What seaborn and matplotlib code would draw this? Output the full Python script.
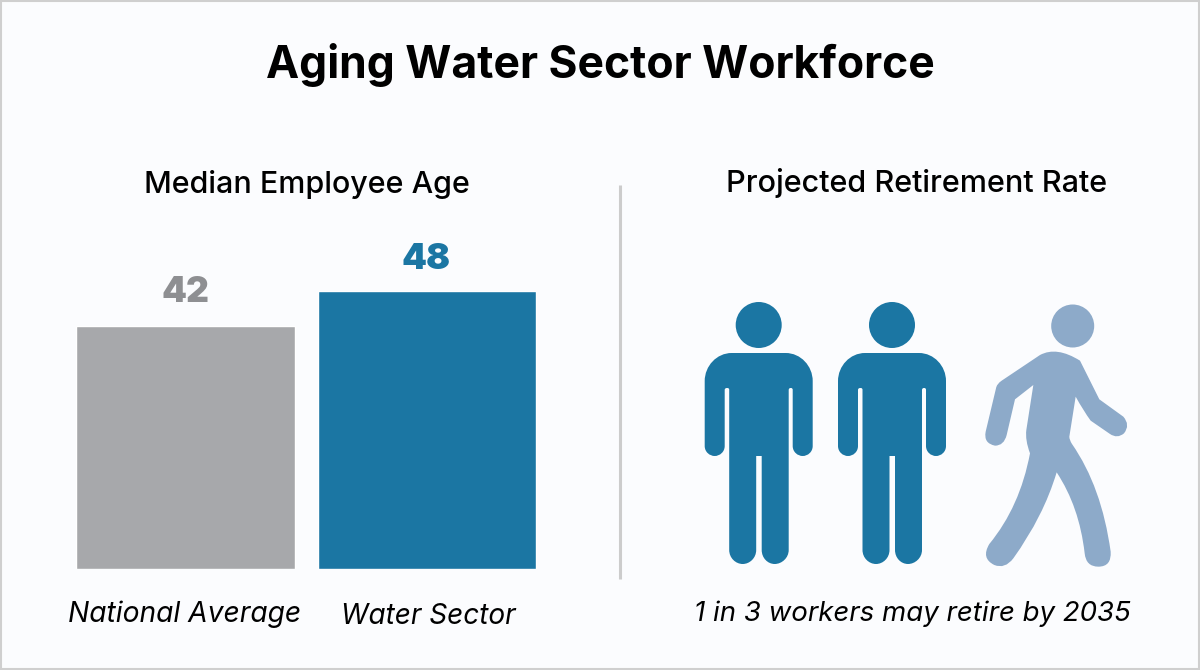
import matplotlib
matplotlib.use("Agg")
import matplotlib.pyplot as plt
import seaborn as sns
from matplotlib.patches import Circle, PathPatch, Rectangle
from matplotlib.path import Path

# the data
categories = ["National Average", "Water Sector"]
median_age = [42, 48]
workers_staying = 2
workers_retiring = 1

title = "Aging Water Sector Workforce"
left_title = "Median Employee Age"
right_title = "Projected Retirement Rate"
right_note = "1 in 3 workers may retire by 2035"

BG = "#FBFCFE"
BLUE = "#1B76A3"
GRAY = "#A7A8AB"
GRAY_TEXT = "#8E8F92"
LIGHT_BLUE = "#8DAAC9"
FONT = "Inter"

sns.set_style("white")
plt.rcParams["font.family"] = [FONT, "DejaVu Sans"]

fig = plt.figure(figsize=(12, 6.7), dpi=100, facecolor=BG)

# overlay in pixel coordinates, for the frame, divider and icons
over = fig.add_axes([0, 0, 1, 1], zorder=0)
over.set_xlim(0, 1200)
over.set_ylim(670, 0)
over.axis("off")
over.add_patch(Rectangle((1, 1), 1198, 668, fc=BG, ec="#CFCFCF", lw=1.5))
over.plot([620, 620], [185, 579], color="#CCCCCC", lw=2.2, solid_capstyle="butt")

# bar chart, axes placed so 0 sits at the bottom of the bars
ax = fig.add_axes([65 / 1200, (670 - 568.5) / 670, 482.5 / 1200, 289 / 670], zorder=1)
ax.patch.set_alpha(0)
sns.barplot(x=categories, y=median_age, hue=categories, palette=[GRAY, BLUE],
            width=0.905, saturation=1, legend=False, ax=ax)
ax.set_xlim(-0.5, 1.5)
ax.set_ylim(0, 50)
ax.axis("off")

ax.text(0, median_age[0] + 5.75, str(median_age[0]), color=GRAY_TEXT, fontsize=25.5,
        fontweight="black", ha="center", va="center")
ax.text(0.995, median_age[1] + 5.5, str(median_age[1]), color=BLUE, fontsize=25.5,
        fontweight="black", ha="center", va="center")


def standing_person(x0, color):
    # outline in px, x0 is the left edge of the shoulders
    M, L, C = Path.MOVETO, Path.LINETO, Path.CURVE4
    pts = [
        (27, 353), (81, 353), (96, 353), (108, 366), (108, 381),
        (108, 446), (108, 452), (103, 456), (98, 456), (93, 456), (88, 452), (88, 446),
        (88, 390), (88, 388.5), (87.5, 388), (86, 388), (85, 388), (84, 388.5), (84, 390),
        (84, 550), (84, 558), (77, 564), (70, 564), (63, 564), (57, 558), (57, 550),
        (57, 456), (51.5, 456),
        (51.5, 550), (51.5, 558), (45, 564), (38, 564), (31, 564), (24.5, 558), (24.5, 550),
        (24.5, 390), (24.5, 388.5), (24, 388), (22.5, 388), (21, 388), (20, 388.5), (20, 390),
        (20, 446), (20, 452), (15, 456), (10, 456), (5, 456), (0, 452), (0, 446),
        (0, 381), (0, 366), (12, 353), (27, 353),
    ]
    codes = [M, L, C, C, C,
             L, C, C, C, C, C, C,
             L, C, C, C, C, C, C,
             L, C, C, C, C, C, C,
             L, L,
             L, C, C, C, C, C, C,
             L, C, C, C, C, C, C,
             L, C, C, C, C, C, C,
             L, C, C, C]
    verts = [(x0 + px, py) for px, py in pts]
    over.add_patch(PathPatch(Path(verts, codes), fc=color, ec="none"))
    over.add_patch(Circle((x0 + 54, 325), 23, fc=color, ec="none"))


def walking_person(color):
    M, L, Q = Path.MOVETO, Path.LINETO, Path.CURVE3
    pts = [
        (240, 195, M), (290, 168, Q), (360, 212, Q),
        (418, 328, L), (490, 380, L), (512, 405, Q), (492, 430, Q), (472, 447, Q), (450, 432, Q),
        (392, 392, L), (370, 362, Q), (347, 320, Q),
        (328, 440, L), (328, 450, Q), (336, 462, Q),
        (425, 590, Q), (452, 785, Q), (455, 830, Q), (415, 830, Q), (378, 830, Q), (374, 790, Q),
        (358, 650, Q), (290, 547, Q),
        (250, 680, Q), (160, 805, Q), (135, 838, Q), (103, 825, Q), (62, 805, Q), (88, 762, Q),
        (180, 650, Q), (210, 490, Q),
        (195, 450, Q), (199, 420, Q),
        (220, 285, L), (165, 328, L), (140, 435, L), (132, 467, Q), (105, 467, Q), (70, 460, Q), (77, 425, Q),
        (108, 295, L), (110, 282, Q), (125, 272, Q), (240, 195, L),
    ]
    verts = [(960 + p[0] / 3, 290 + p[1] / 3) for p in pts]
    codes = [p[2] for p in pts]
    over.add_patch(PathPatch(Path(verts, codes), fc=color, ec="none"))
    over.add_patch(Circle((1072.7, 326), 21.5, fc=color, ec="none"))


for i in range(workers_staying):
    standing_person(704.7 + i * 133.3, BLUE)
for i in range(workers_retiring):
    walking_person(LIGHT_BLUE)

# text
over.text(600.5, 65, title, fontsize=32, fontweight="bold", color="black", ha="center", va="center")
over.text(306.5, 184.5, left_title, fontsize=21.9, fontweight="medium", color="black", ha="center", va="center")
over.text(916.5, 183.5, right_title, fontsize=22, fontweight="medium", color="black", ha="center", va="center")
over.text(185, 614, categories[0], fontsize=20.3, style="italic", color="black", ha="center", va="center")
over.text(428, 616, categories[1], fontsize=20.1, style="italic", color="black", ha="center", va="center")
over.text(912.5, 614, right_note, fontsize=19.9, style="italic", color="black", ha="center", va="center")

fig.savefig("out.png", dpi=100, facecolor=BG)
